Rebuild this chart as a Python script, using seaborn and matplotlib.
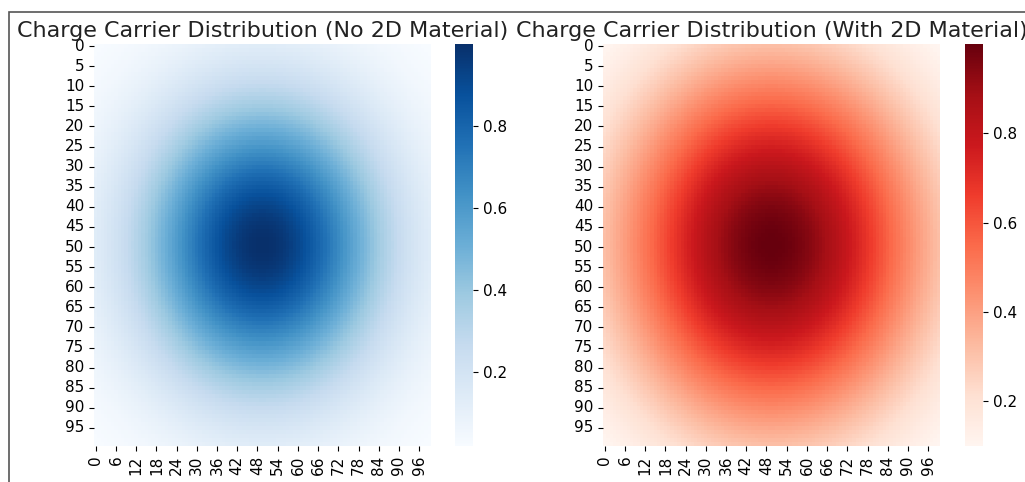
import numpy as np
import matplotlib
matplotlib.use("Agg")
import matplotlib.pyplot as plt
import seaborn as sns
from matplotlib.patches import Rectangle

grid_size = 100
grid_x = np.linspace(-5, 5, grid_size)
grid_y = np.linspace(-5, 5, grid_size)
spread_no_material = 12.5    # corner value ~0.018
spread_with_material = 21.7  # corner value ~0.10

titles = ["Charge Carrier Distribution (No 2D Material)",
          "Charge Carrier Distribution (With 2D Material)"]
cmaps = ["Blues", "Reds"]
xtick_values = list(range(0, 100, 6))
ytick_values = list(range(0, 100, 5))
cbar_ticks = [0.2, 0.4, 0.6, 0.8]

X, Y = np.meshgrid(grid_x, grid_y)
dist_no = np.exp(-(X**2 + Y**2) / spread_no_material)
dist_with = np.exp(-(X**2 + Y**2) / spread_with_material)

fig = plt.figure(figsize=(10.25, 4.82), dpi=100)
W, H = 1025, 482

def px(x0, y0, w, h):
    return [x0 / W, 1 - (y0 + h) / H, w / W, h / H]

axes = [fig.add_axes(px(94, 44, 337, 402)), fig.add_axes(px(603, 44, 337, 402))]
caxes = [fig.add_axes(px(455, 44, 18, 402)), fig.add_axes(px(965, 44, 18, 402))]

for ax, cax, data, cmap, title in zip(axes, caxes, [dist_no, dist_with], cmaps, titles):
    sns.heatmap(data, ax=ax, cbar_ax=cax, cmap=cmap,
                cbar_kws={"ticks": cbar_ticks})
    ax.set_xticks(np.array(xtick_values) + 0.5)
    ax.set_xticklabels([str(v) for v in xtick_values], rotation=90, fontsize=11)
    ax.set_yticks(np.array(ytick_values) + 0.5)
    ax.set_yticklabels([str(v) for v in ytick_values], rotation=0, fontsize=11)
    ax.set_title(title, fontsize=16, color="#222222", pad=5)
    cax.tick_params(labelsize=11)

# screenshot frame
fig.patches.append(Rectangle((9 / W, -0.1), 1.2, 1 - 12 / H + 0.1, transform=fig.transFigure,
                             fill=False, edgecolor="#555555", linewidth=1.2))

fig.savefig("out.png", dpi=100)
